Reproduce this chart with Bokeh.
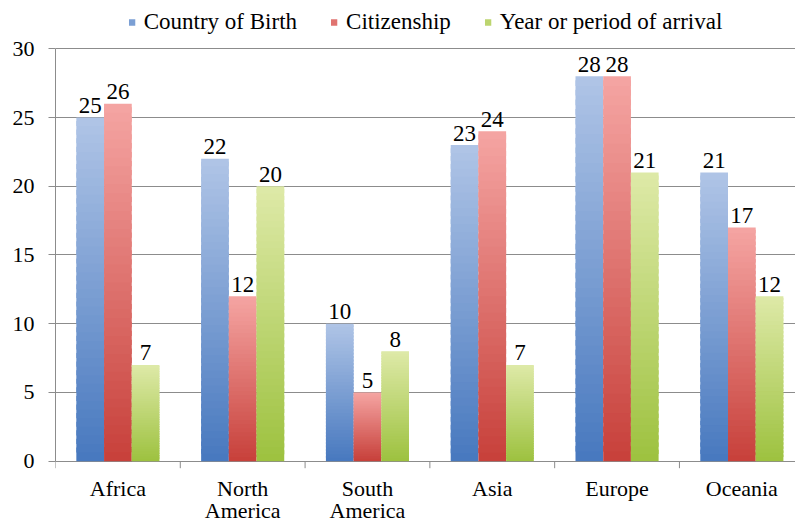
import numpy as np
from bokeh.plotting import figure
from bokeh.models import FixedTicker, Range1d, Legend, LegendItem, ColumnDataSource
from bokeh.core.properties import value
from bokeh.embed import file_html
from bokeh.resources import INLINE

# ---- data ----
categories = ["Africa", "North America", "South America", "Asia", "Europe", "Oceania"]
tick_labels = ["Africa", "North\nAmerica", "South\nAmerica", "Asia", "Europe", "Oceania"]
country_of_birth = [25, 22, 10, 23, 28, 21]
citizenship = [26, 12, 5, 24, 28, 17]
year_of_arrival = [7, 20, 8, 7, 21, 12]
series_names = ["Country of Birth", "Citizenship", "Year or period of arrival"]
y_ticks = [0, 5, 10, 15, 20, 25, 30]

series = [country_of_birth, citizenship, year_of_arrival]
top_colors = [(176, 197, 230), (245, 165, 163), (222, 234, 168)]
bottom_colors = [(71, 120, 191), (199, 64, 58), (157, 193, 63)]
mid_colors = ["#7b9fd4", "#e07370", "#bcd56f"]

FONT = "Times New Roman"
bar_w = 0.222
offsets = [-bar_w, 0.0, bar_w]
N = 40
PX_PER_UNIT = 13.747  # frame pixels per y unit (412.4 px for 30 units)
GRAY = "#8c8c8c"

p = figure(width=795, height=523, x_range=Range1d(0, 5.93), y_range=Range1d(-4.532, 33.513),
           output_backend="svg", toolbar_location=None, x_axis_location=None,
           min_border_left=55, min_border_right=0, min_border_top=0, min_border_bottom=0)
p.outline_line_color = None
p.background_fill_color = "white"
p.border_fill_color = "white"

def hexc(c):
    return "#%02x%02x%02x" % tuple(int(round(v)) for v in c)

# category axis: tick marks at category boundaries, labels under category centres
bounds_x = list(range(len(categories) + 1))
p.segment(x0=bounds_x, x1=bounds_x, y0=[0] * len(bounds_x),
          y1=[-7.0 / PX_PER_UNIT] * len(bounds_x), line_color=GRAY, line_width=1)
cx, cy, ct = [], [], []
for ci, lab in enumerate(tick_labels):
    for li, line in enumerate(lab.split("\n")):
        cx.append(ci + 0.5)
        cy.append(-(27.0 + 22.5 * li) / PX_PER_UNIT)
        ct.append(line)
p.text(x=cx, y=cy, text=ct, text_align="center", text_baseline="middle",
       text_font=value(FONT), text_font_size="22px", text_color="#000000")

legend_items = []
for si, vals in enumerate(series):
    L, R, B, T, C = [], [], [], [], []
    for ci, v in enumerate(vals):
        xc = ci + 0.5 + offsets[si]
        for k in range(N):
            t = (k + 0.5) / N
            col = tuple(bottom_colors[si][j] + (top_colors[si][j] - bottom_colors[si][j]) * t for j in range(3))
            L.append(xc - bar_w / 2)
            R.append(xc + bar_w / 2)
            B.append(v * k / N)
            T.append(v * (k + 1) / N + (0 if k == N - 1 else 0.6 * v / N))
            C.append(hexc(col))
    src = ColumnDataSource(dict(left=L, right=R, bottom=B, top=T, color=C))
    p.quad(left="left", right="right", bottom="bottom", top="top", fill_color="color",
           line_color=None, source=src)
    dummy = p.quad(left=[0], right=[0], bottom=[0], top=[0], fill_color=mid_colors[si],
                   line_color=None)
    legend_items.append(LegendItem(label=series_names[si], renderers=[dummy]))
    lsrc = ColumnDataSource(dict(x=[ci + 0.5 + offsets[si] for ci in range(len(vals))], y=vals,
                                 t=[str(v) for v in vals]))
    p.text(x="x", y="y", text="t", source=lsrc, text_align="center", text_baseline="alphabetic",
           y_offset=-12, text_font=value(FONT), text_font_size="23px", text_color="#000000")

legend = Legend(items=legend_items, orientation="horizontal", location="top_center",
                glyph_width=8, glyph_height=8, label_standoff=8, spacing=33,
                padding=0, margin=9, label_text_font=FONT, label_text_font_size="23px",
                label_text_color="#000000", border_line_color=None, background_fill_alpha=0)
p.add_layout(legend, "center")

# y axis
p.yaxis.ticker = FixedTicker(ticks=y_ticks)
p.yaxis.bounds = (0, 30)
p.yaxis.axis_line_color = GRAY
p.yaxis.major_tick_line_color = GRAY
p.yaxis.major_tick_out = 7
p.yaxis.major_tick_in = 0
p.yaxis.minor_tick_line_color = None
p.yaxis.major_label_standoff = 14
p.yaxis.major_label_text_font = FONT
p.yaxis.major_label_text_font_size = "22px"
p.yaxis.major_label_text_color = "#000000"

p.xgrid.grid_line_color = None
p.ygrid.ticker = FixedTicker(ticks=y_ticks)
p.ygrid.grid_line_color = GRAY
p.ygrid.grid_line_width = 1

open("out.html", "w").write(file_html(p, INLINE))
